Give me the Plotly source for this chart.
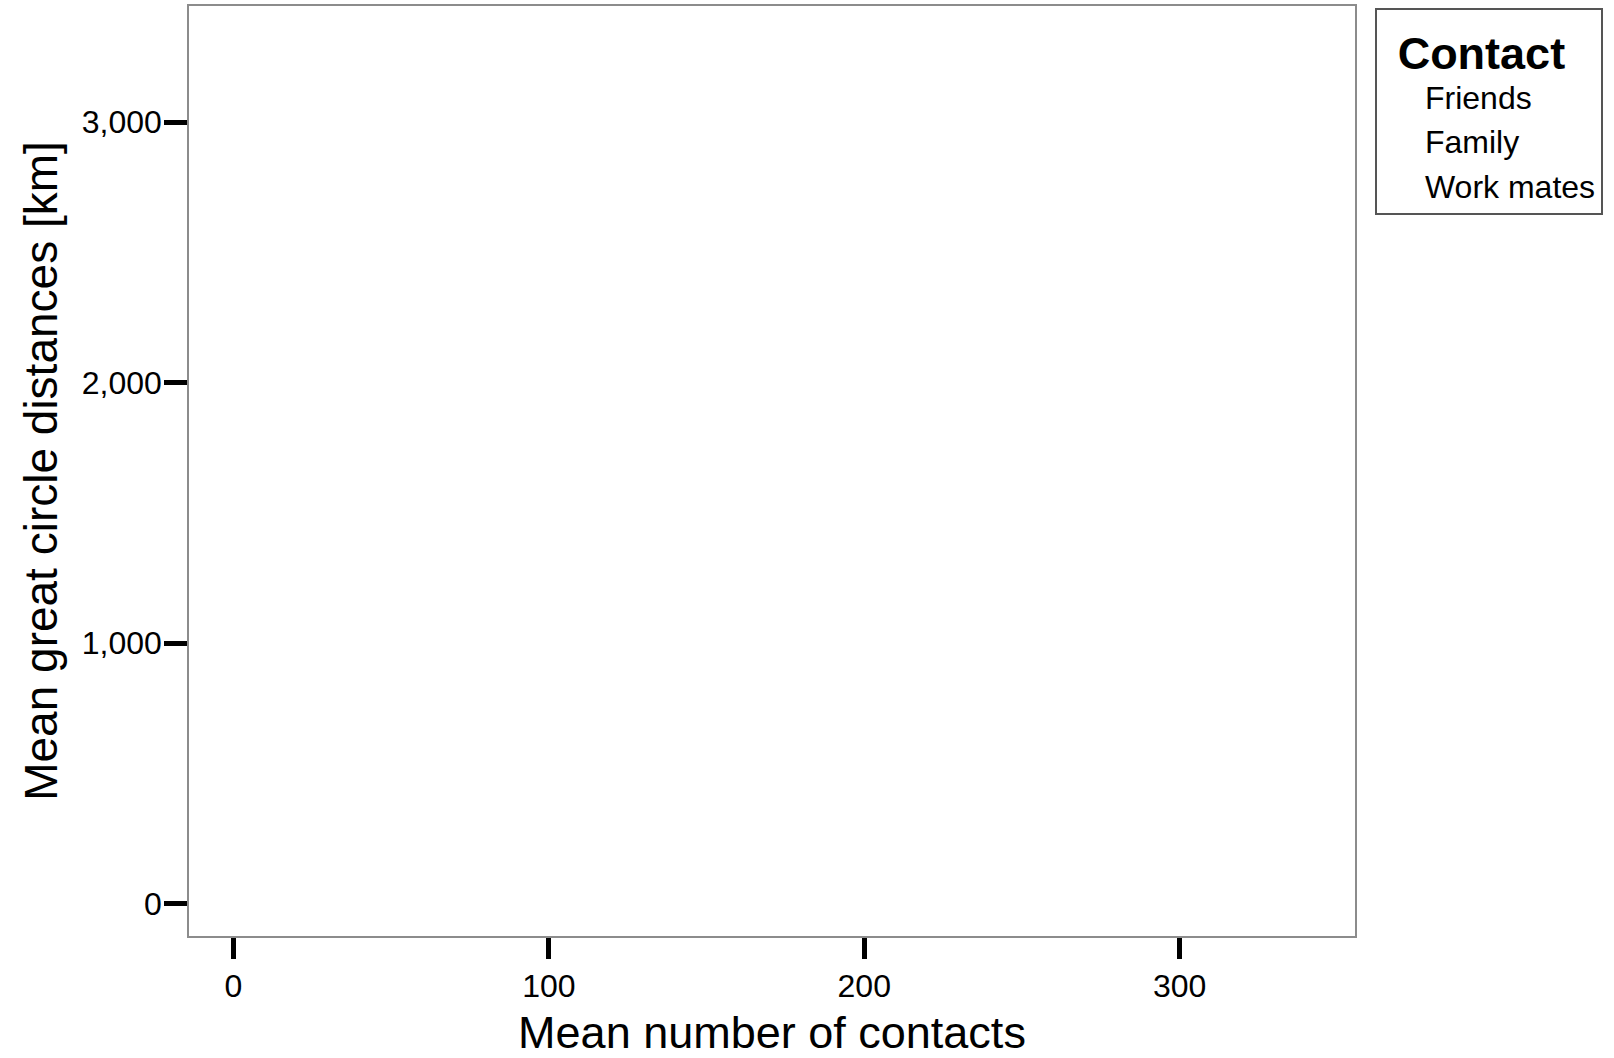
import plotly.graph_objects as go

# Series (no data points are visible in the reference chart; values are missing)
series_names = ["Friends", "Family", "Work mates"]
friends_contacts = [None]
friends_distance = [None]
family_contacts = [None]
family_distance = [None]
workmates_contacts = [None]
workmates_distance = [None]

x_tick_vals = [0, 100, 200, 300]
x_tick_text = ["0", "100", "200", "300"]
y_tick_vals = [0, 1000, 2000, 3000]
y_tick_text = ["0", "1,000", "2,000", "3,000"]

FONT = "Liberation Sans, Arial, Helvetica, sans-serif"

fig = go.Figure()
for name, xs, ys in [
    (series_names[0], friends_contacts, friends_distance),
    (series_names[1], family_contacts, family_distance),
    (series_names[2], workmates_contacts, workmates_distance),
]:
    fig.add_trace(go.Scatter(
        x=xs, y=ys, mode="markers", name=name,
        marker=dict(color="rgba(0,0,0,0)", size=1),
    ))

W, H = 1614, 1058
L, R, T, B = 188.5, 1355, 5.7, 936

fig.update_layout(
    width=W, height=H,
    margin=dict(l=L, r=W - R, t=T, b=H - B, pad=0),
    paper_bgcolor="white", plot_bgcolor="white",
    font=dict(family=FONT, color="black", size=30),
    showlegend=True,
    legend=dict(
        x=(1375 - L) / (R - L), xanchor="left",
        y=(B - 8.2) / (B - T), yanchor="top",
        bordercolor="#555555", borderwidth=2,
        bgcolor="white",
        font=dict(family=FONT, size=32, color="black"),
        title=dict(
            text="&nbsp;<span style='font-size:22px'>&nbsp;</span>Contact",
            font=dict(family=FONT, size=45, color="black", weight="bold"),
        ),
        itemwidth=38,
        tracegroupgap=0,
    ),
    xaxis=dict(
        range=[-14.1, 355.6],
        tickmode="array", tickvals=x_tick_vals, ticktext=x_tick_text,
        ticks="outside", ticklen=21, tickwidth=5, tickcolor="black",
        showline=True, linecolor="#8c8c8c", linewidth=1.5, mirror=True,
        showgrid=False, zeroline=False,
        tickfont=dict(family=FONT, size=32, color="black"),
        title=dict(text="Mean number of contacts", font=dict(family=FONT, size=45, color="black"), standoff=14),
    ),
    yaxis=dict(
        range=[-124.8, 3446],
        tickmode="array", tickvals=y_tick_vals, ticktext=y_tick_text,
        ticks="outside", ticklen=23, tickwidth=5, tickcolor="black",
        showline=True, linecolor="#8c8c8c", linewidth=1.5, mirror=True,
        showgrid=False, zeroline=False,
        tickfont=dict(family=FONT, size=32, color="black"),
        ticklabelstandoff=-4,
        title=dict(text="Mean great circle distances [km]", font=dict(family=FONT, size=46, color="black"), standoff=10),
    ),
)

fig.write_html(
    "out.html",
    config={"displayModeBar": False},
    post_script="document.body.style.margin='0';document.body.style.overflow='hidden';",
)
